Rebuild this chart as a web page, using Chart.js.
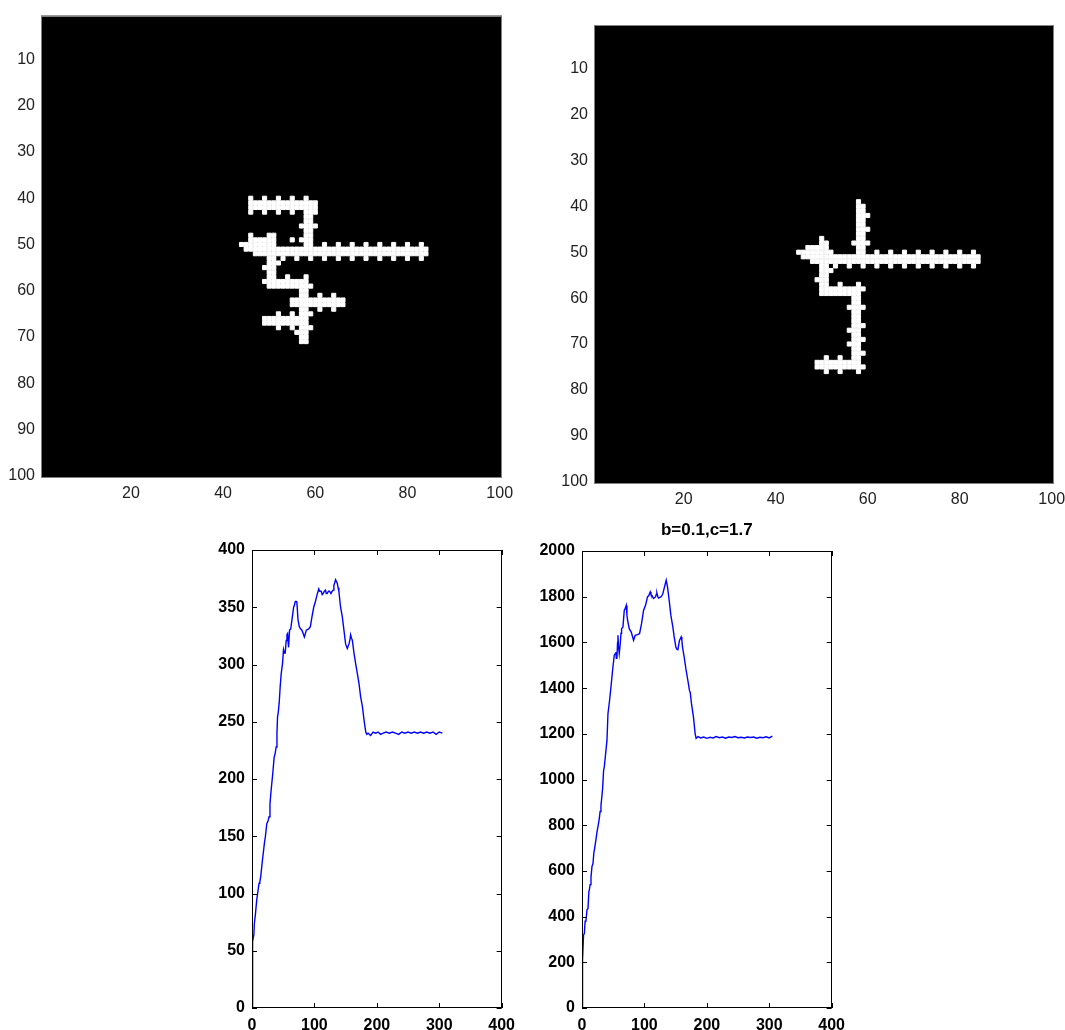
<!DOCTYPE html>
<html lang="en">
<head>
<meta charset="UTF-8">
<title>Skeleton images and response curves</title>
<script src="https://cdn.jsdelivr.net/npm/chart.js@4.4.1/dist/chart.umd.min.js"></script>
<style>
  body { margin: 0; background: #fff; width: 1065px; height: 1030px; position: relative; overflow: hidden; }
  canvas { position: absolute; }
</style>
</head>
<body>
<canvas id="imgA" style="left:0;top:0" width="520" height="505"></canvas>
<canvas id="imgB" style="left:540px;top:0" width="532" height="510"></canvas>
<canvas id="curveA" style="left:190px;top:520px" width="333" height="510"></canvas>
<canvas id="curveB" style="left:520px;top:500px" width="333" height="530"></canvas>
<script>
// binary skeleton images, white pixel runs as [row, firstCol, lastCol]
const skelA = [
  [40,46,46],[40,49,49],[40,52,52],[40,55,55],[40,58,58],
  [41,46,60],[42,46,60],
  [43,46,46],[43,49,49],[43,52,52],[43,55,55],[43,58,60],
  [44,58,59],[45,58,59],[46,57,60],[47,58,59],
  [48,46,46],[48,50,51],[48,58,59],
  [49,46,51],[49,55,55],[49,57,59],
  [50,44,51],[50,58,59],[50,62,62],[50,65,65],[50,68,68],[50,71,71],[50,74,74],[50,77,77],[50,80,80],[50,83,83],
  [51,45,84],[52,47,84],
  [53,50,51],[53,53,53],[53,56,56],[53,59,59],[53,62,62],[53,65,65],[53,68,68],[53,71,71],[53,74,74],[53,77,77],[53,80,80],[53,83,83],
  [54,50,52],[55,49,51],[56,50,51],
  [57,50,51],[57,54,54],[57,58,58],
  [58,49,58],[59,50,59],
  [60,57,58],[61,57,58],[61,61,61],[61,64,64],
  [62,55,66],[63,55,66],
  [64,57,58],[64,61,61],[64,64,64],
  [65,52,52],[65,55,55],[65,57,59],
  [66,49,58],[67,49,58],
  [68,52,52],[68,55,55],[68,57,59],
  [69,56,58],[70,57,58],[71,57,58]
];
const skelB = [
  [39,58,58],[40,58,59],[41,58,59],[42,58,60],[43,58,59],[44,58,59],[45,58,60],[46,58,59],
  [47,50,50],[47,58,59],
  [48,50,51],[48,57,60],
  [49,47,51],[49,58,59],
  [50,45,52],[50,58,59],[50,62,62],[50,65,65],[50,68,68],[50,71,71],[50,74,74],[50,77,77],[50,80,80],[50,83,83],
  [51,46,84],[52,48,84],
  [53,50,51],[53,53,53],[53,56,56],[53,59,59],[53,62,62],[53,65,65],[53,68,68],[53,71,71],[53,74,74],[53,77,77],[53,80,80],[53,83,83],
  [54,50,52],[55,50,51],[56,49,51],
  [57,50,51],[57,54,54],[57,58,58],
  [58,50,59],[59,50,58],
  [60,57,58],[61,57,58],[62,56,59],[63,57,58],[64,57,58],[65,57,58],[66,57,59],
  [67,56,58],[68,57,58],[69,57,59],[70,56,58],[71,57,58],[72,57,59],
  [73,51,51],[73,54,54],[73,57,58],
  [74,49,58],[75,49,59],
  [76,51,51],[76,54,54],[76,58,58]
];
const imgXTicks = [20, 40, 60, 80, 100];
const imgYTicks = [10, 20, 30, 40, 50, 60, 70, 80, 90, 100];

// response curves
const leftX = [0,0.3,1,1.6,3,3.8,5.5,7.5,9,11.3,12.5,14,16.7,18,19.9,21.5,23.7,25.5,27.4,28.8,30.1,31.5,33.3,35.5,37,38.7,40,40.9,42,43.5,45.2,46.8,48.9,50.5,51.8,53.2,54.8,56,57,58.6,60.2,62,64,66.7,68,69.4,71,72,73.7,75.8,78,80,82,83.9,85.5,87,90.9,93.5,96.2,98.9,101.6,104.3,107,108.5,110.8,112.5,114,116,117.7,119,120.4,122.5,124.2,126.5,128.5,130,131.2,133.9,136.6,138,139.2,141.9,144.6,147.3,150,152.7,155.4,157,158,159.5,160.8,163.4,166,168.8,171.5,174,177,179.6,182.3,184,186,190,194,198,202,206,210,215,220,225,230,235,240,245,250,255,260,265,270,275,280,285,290,295,300,305];
const leftY = [0,36,50,58,64,74,82,94,100,109,110,115,129,135,144,150,161,163,167,178,187,195,205,219,222,228,240,254,258,266,281,292,301,313,310,310,321,326,327,315,330,331,339,350,352,355,355,354,339,333,331,330,327,324,327,330,331,333,342,350,355,361,366,364,364,361,362,364,365,362,362,364,364,362,364,365,369,374,371,367,364,350,342,330,318,314,318,322,326,323,321,310,301,292,283,272,263,251,241,239,240,238,241,240,241,239,240,241,240,241,240,239,241,240,241,240,241,240,241,240,241,240,241,239,241,240];
const rightX = [0,0.2,0.8,1.6,2.5,3.7,5,6.4,8,9.6,11,11.7,13,14.4,16,17.6,19,19.7,22,24,26,27.7,29,30.4,32,33,34.6,35.7,37.3,40,41.6,44.2,46.4,49,51.7,53,54.4,55,56,57,57.6,58.5,59.7,61.3,62.5,63.4,65.6,67.7,69.5,70.9,72,73,75.7,78.9,80.5,82.6,85.3,89,92.2,95.4,98.6,101.8,105,107,109.3,110.5,112,114.6,117.8,119,120,121.5,122.6,124.5,126.4,128,129.6,132.2,134.9,137,139.7,142.4,145.6,147.7,150.4,152,153.6,155,156.2,158.9,160,161,163.7,166.4,169.6,172.2,173.5,175.4,178.6,181.3,182.9,186,190,195,200,205,210,215,220,225,230,235,240,245,250,255,260,265,270,275,280,285,290,295,300,305];
const rightY = [0,121,209,209,320,325,380,384,430,435,510,515,540,573,620,632,680,690,730,770,800,829,860,887,930,960,1040,1055,1098,1171,1288,1347,1405,1478,1544,1550,1558,1530,1536,1600,1631,1580,1551,1595,1640,1660,1667,1740,1750,1762,1720,1697,1660,1645,1630,1609,1631,1634,1638,1682,1740,1762,1799,1805,1821,1810,1806,1792,1799,1810,1816,1800,1794,1797,1799,1805,1814,1843,1872,1843,1784,1718,1667,1624,1580,1570,1568,1590,1609,1624,1610,1580,1536,1485,1434,1390,1380,1332,1273,1200,1180,1188,1182,1186,1180,1185,1182,1188,1183,1186,1181,1186,1184,1188,1183,1185,1182,1186,1184,1186,1181,1185,1183,1187,1182,1190];
const curveXTicks = [0, 100, 200, 300, 400];
const leftYTicks = [0, 50, 100, 150, 200, 250, 300, 350, 400];
const rightYTicks = [0, 200, 400, 600, 800, 1000, 1200, 1400, 1600, 1800, 2000];

function cells(runs) {
  const pts = [];
  runs.forEach(([r, a, b]) => { for (let c = a; c <= b; c++) pts.push({ x: c, y: r }); });
  return pts;
}
function pairs(xs, ys) { return xs.map((x, i) => ({ x: x, y: ys[i] })); }

// axes box: optional fill, outline and inward tick marks
const frame = {
  id: 'frame',
  beforeDatasetsDraw(chart, args, o) {
    if (!o.fill) return;
    const a = chart.chartArea, ctx = chart.ctx;
    ctx.save();
    ctx.fillStyle = o.fill;
    ctx.fillRect(a.left, a.top, a.right - a.left, a.bottom - a.top);
    ctx.restore();
  },
  afterDatasetsDraw(chart, args, o) {
    const a = chart.chartArea, ctx = chart.ctx;
    ctx.save();
    ctx.strokeStyle = o.color || '#000';
    ctx.lineWidth = 1;
    if (o.ticks) {
      const len = 5;
      ctx.beginPath();
      chart.scales.x.ticks.forEach(t => {
        const px = Math.round(chart.scales.x.getPixelForValue(t.value)) + 0.5;
        ctx.moveTo(px, a.bottom); ctx.lineTo(px, a.bottom - len);
        ctx.moveTo(px, a.top); ctx.lineTo(px, a.top + len);
      });
      chart.scales.y.ticks.forEach(t => {
        const py = Math.round(chart.scales.y.getPixelForValue(t.value)) + 0.5;
        ctx.moveTo(a.left, py); ctx.lineTo(a.left + len, py);
        ctx.moveTo(a.right, py); ctx.lineTo(a.right - len, py);
      });
      ctx.stroke();
    }
    ctx.strokeRect(Math.round(a.left) + 0.5, Math.round(a.top) + 0.5,
      Math.round(a.right - a.left) - 1, Math.round(a.bottom - a.top) - 1);
    ctx.restore();
  }
};

function fixTicks(list) { return s => { s.ticks = list.map(v => ({ value: v })); }; }
const plain = v => String(v);

function imageChart(id, runs, yw, xh, pad) {
  const font = { family: 'Liberation Sans', size: 16 };
  return new Chart(document.getElementById(id), {
    type: 'scatter',
    data: { datasets: [{
      data: cells(runs),
      pointStyle: 'rect', pointRadius: 2.9, pointBorderWidth: 1,
      backgroundColor: '#fff', borderColor: '#fff'
    }] },
    plugins: [frame],
    options: {
      responsive: false, animation: false, events: [],
      layout: { padding: { top: pad.top, right: pad.right, left: 0, bottom: 0 } },
      plugins: { legend: { display: false }, tooltip: { enabled: false },
        frame: { fill: '#000', color: '#808080', ticks: false } },
      scales: {
        x: { type: 'linear', min: 0.5, max: 100.5,
          afterBuildTicks: fixTicks(imgXTicks), afterFit: s => { s.height = xh; },
          grid: { display: false, drawTicks: false }, border: { display: false },
          ticks: { autoSkip: false, maxRotation: 0, color: '#222', font: font, padding: 6, callback: plain } },
        y: { type: 'linear', min: 0.5, max: 100.5, reverse: true,
          afterBuildTicks: fixTicks(imgYTicks), afterFit: s => { s.width = yw; },
          grid: { display: false, drawTicks: false }, border: { display: false },
          ticks: { autoSkip: false, color: '#222', font: font, padding: 6, callback: plain } }
      }
    }
  });
}

function curveChart(id, xs, ys, yMax, yTicks, pad, title) {
  const font = { family: 'Liberation Sans', size: 16, weight: 'bold' };
  return new Chart(document.getElementById(id), {
    type: 'scatter',
    data: { datasets: [{
      data: pairs(xs, ys),
      showLine: true, pointRadius: 0, borderColor: '#0000ff', borderWidth: 1.4
    }] },
    plugins: [frame],
    options: {
      responsive: false, animation: false, events: [],
      layout: { padding: { top: pad.top, right: pad.right, left: 0, bottom: 0 } },
      plugins: {
        legend: { display: false }, tooltip: { enabled: false },
        frame: { color: '#000', ticks: true },
        title: title ? { display: true, text: title, fullSize: false, color: '#000',
          font: { family: 'Liberation Sans', size: 17, weight: 'bold' },
          padding: { top: 20, bottom: 10.6 } } : { display: false }
      },
      scales: {
        x: { type: 'linear', min: 0, max: 400,
          afterBuildTicks: fixTicks(curveXTicks), afterFit: s => { s.height = 22; },
          grid: { display: false, drawTicks: false }, border: { display: false },
          ticks: { autoSkip: false, maxRotation: 0, color: '#000', font: font, padding: 8, callback: plain } },
        y: { type: 'linear', min: 0, max: yMax,
          afterBuildTicks: fixTicks(yTicks), afterFit: s => { s.width = 62; },
          grid: { display: false, drawTicks: false }, border: { display: false },
          ticks: { autoSkip: false, color: '#000', font: font, padding: 7, callback: plain } }
      }
    }
  });
}

imageChart('imgA', skelA, 41, 27, { top: 15, right: 18 });
imageChart('imgB', skelB, 54, 26, { top: 25, right: 18 });
curveChart('curveA', leftX, leftY, 400, leftYTicks, { top: 30, right: 16 }, null);
curveChart('curveB', rightX, rightY, 2000, rightYTicks, { top: 0, right: 15 }, 'b=0.1,c=1.7');
</script>
</body>
</html>
